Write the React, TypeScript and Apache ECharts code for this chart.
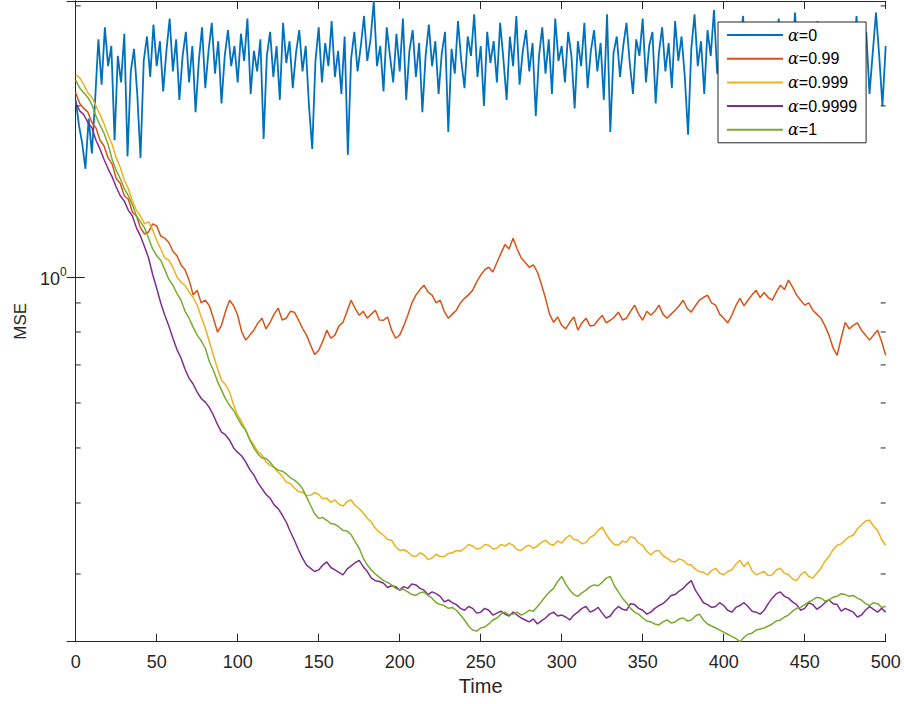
import React, { useEffect, useRef } from 'react';
import * as echarts from 'echarts';

const FONT = '"Liberation Sans", Arial, Helvetica, sans-serif';
const INK = '#262626';

// Legend names and MATLAB default line colours
const seriesNames = ['α=0', 'α=0.99', 'α=0.999', 'α=0.9999', 'α=1'];
const seriesColors = ['#0072BD', '#D95319', '#EDB120', '#7E2F8E', '#77AC30'];

// Axis limits (tight to the data)
const timeMin = 0;
const timeMax = 500;
const timeInterval = 50;
const mseMin = 0.228;
const mseMax = 3.06;
// Log-axis minor tick positions
const minorTickValues = [0.3, 0.4, 0.5, 0.6, 0.7, 0.8, 0.9, 2, 3];

// α=0 sampled every 2 time steps
const alpha0Step = 2;
const mseAlpha0 = [
  2.05, 1.85, 1.72, 1.55, 1.9, 1.65, 2.05, 2.62, 2.18, 2.75,
  2.35, 2.55, 1.74, 2.45, 2.2, 2.68, 1.63, 2.3, 2.52, 2.1,
  1.62, 2.4, 2.65, 2.25, 2.78, 2.35, 2.6, 2.12, 2.5, 2.85,
  2.3, 2.62, 2.05, 2.45, 2.7, 2.2, 2.55, 1.95, 2.4, 2.75,
  2.15, 2.5, 2.8, 2.28, 2.6, 2.02, 2.45, 2.72, 2.35, 2.55,
  2.2, 2.68, 2.4, 2.85, 2.1, 2.5, 2.3, 2.62, 1.75, 2.45,
  2.7, 2.25, 2.55, 2.05, 2.8, 2.38, 2.6, 2.15, 2.48, 2.72,
  2.3, 2.55, 2.0, 1.68, 2.4, 2.75, 2.2, 2.58, 2.35, 2.82,
  2.25, 2.5, 2.1, 2.65, 1.64, 2.42, 2.7, 2.3, 2.55, 2.88,
  2.4, 2.62, 3.06, 2.35, 2.55, 2.12, 2.75, 2.45, 2.2, 2.68,
  2.3, 2.85, 2.05, 2.5, 2.72, 2.25, 2.58, 1.95, 2.45, 2.78,
  2.35, 2.6, 2.1, 2.48, 2.7, 1.8, 2.52, 2.28, 2.82, 2.4,
  2.15, 2.65, 2.45, 2.9, 2.25, 2.55, 2.0, 2.7, 2.38, 2.6,
  2.2, 2.8, 2.42, 2.05, 2.65, 2.35, 2.88, 2.18, 2.5, 2.72,
  2.3, 2.58, 1.92, 2.45, 2.75, 2.28, 2.62, 2.1, 2.85, 2.4,
  2.55, 2.2, 2.7, 2.45, 1.98, 2.6, 2.35, 2.8, 2.15, 2.5,
  2.72, 2.3, 2.58, 2.05, 2.9, 1.8, 2.48, 2.65, 2.25, 2.55,
  2.8, 2.38, 2.1, 2.62, 2.45, 2.85, 2.2, 2.55, 2.7, 2.02,
  2.48, 2.75, 2.3, 2.58, 2.15, 2.82, 2.4, 2.65, 2.25, 1.78,
  2.52, 2.9, 2.35, 2.6, 2.1, 2.72, 2.45, 2.95, 2.28, 2.55,
  2.05, 2.68, 2.4, 2.8, 2.22, 2.58, 2.88, 2.15, 2.5, 2.7,
  2.32, 2.62, 1.95, 2.45, 2.78, 2.25, 2.55, 2.85, 2.12, 2.48,
  2.7, 2.3, 2.92, 2.4, 2.6, 2.05, 2.75, 2.35, 2.55, 2.82,
  2.2, 2.5, 2.68, 2.02, 2.45, 2.78, 2.3, 2.6, 2.15, 2.72,
  2.4, 2.88, 2.25, 2.55, 2.7, 2.1, 2.48, 2.92, 2.45, 2.0,
  2.55,
];

// The other curves are sampled every 2.5 time steps
const smoothStep = 2.5;

const mseAlpha099 = [
  2.11, 2.02, 1.98, 1.95, 1.87, 1.83, 1.74, 1.7, 1.62, 1.58,
  1.49, 1.46, 1.39, 1.37, 1.3, 1.28, 1.22, 1.19, 1.2, 1.24,
  1.23, 1.18, 1.17, 1.15, 1.11, 1.09, 1.05, 1.03, 0.987, 0.93,
  0.947, 0.9, 0.91, 0.89, 0.846, 0.8, 0.822, 0.87, 0.91, 0.89,
  0.856, 0.8, 0.774, 0.79, 0.806, 0.83, 0.846, 0.81, 0.832, 0.86,
  0.881, 0.84, 0.846, 0.87, 0.867, 0.84, 0.812, 0.79, 0.758, 0.73,
  0.743, 0.77, 0.806, 0.78, 0.79, 0.82, 0.832, 0.87, 0.91, 0.88,
  0.856, 0.87, 0.846, 0.86, 0.874, 0.84, 0.839, 0.85, 0.806, 0.78,
  0.79, 0.82, 0.856, 0.9, 0.929, 0.95, 0.967, 0.94, 0.929, 0.9,
  0.91, 0.87, 0.846, 0.86, 0.874, 0.9, 0.917, 0.93, 0.947, 0.98,
  1.007, 1.03, 1.04, 1.02, 1.06, 1.1, 1.14, 1.12, 1.17, 1.12,
  1.08, 1.06, 1.04, 1.05, 1.02, 0.97, 0.917, 0.86, 0.832, 0.85,
  0.822, 0.81, 0.832, 0.85, 0.806, 0.83, 0.846, 0.82, 0.822, 0.84,
  0.856, 0.83, 0.839, 0.85, 0.867, 0.84, 0.846, 0.87, 0.892, 0.86,
  0.839, 0.87, 0.856, 0.87, 0.892, 0.86, 0.846, 0.86, 0.874, 0.89,
  0.91, 0.88, 0.867, 0.89, 0.91, 0.92, 0.929, 0.9, 0.892, 0.86,
  0.846, 0.83, 0.856, 0.89, 0.917, 0.89, 0.91, 0.93, 0.947, 0.92,
  0.939, 0.92, 0.91, 0.94, 0.967, 0.95, 0.987, 0.96, 0.929, 0.91,
  0.892, 0.9, 0.874, 0.86, 0.846, 0.82, 0.79, 0.75, 0.728, 0.78,
  0.832, 0.81, 0.822, 0.83, 0.806, 0.79, 0.774, 0.79, 0.806, 0.77,
  0.728,
];

const mseAlpha0999 = [
  2.27, 2.24, 2.18, 2.11, 2.07, 2.0, 1.93, 1.86, 1.78, 1.71,
  1.62, 1.56, 1.48, 1.43, 1.36, 1.31, 1.28, 1.24, 1.25, 1.21,
  1.16, 1.12, 1.08, 1.07, 1.04, 1.0, 0.979, 0.966, 0.94, 0.92,
  0.892, 0.85, 0.812, 0.77, 0.728, 0.69, 0.658, 0.646, 0.627, 0.595,
  0.571, 0.556, 0.537, 0.518, 0.506, 0.492, 0.486, 0.472, 0.466, 0.462,
  0.453, 0.446, 0.435, 0.433, 0.425, 0.419, 0.418, 0.412, 0.413, 0.417,
  0.414, 0.407, 0.408, 0.401, 0.405, 0.398, 0.395, 0.402, 0.405, 0.396,
  0.391, 0.384, 0.376, 0.37, 0.361, 0.355, 0.351, 0.345, 0.344, 0.335,
  0.33, 0.331, 0.328, 0.323, 0.322, 0.327, 0.324, 0.318, 0.32, 0.325,
  0.322, 0.322, 0.326, 0.327, 0.33, 0.329, 0.333, 0.338, 0.336, 0.332,
  0.333, 0.338, 0.337, 0.332, 0.333, 0.338, 0.336, 0.34, 0.337, 0.331,
  0.33, 0.335, 0.337, 0.333, 0.336, 0.341, 0.344, 0.339, 0.337, 0.343,
  0.34, 0.347, 0.351, 0.345, 0.344, 0.339, 0.341, 0.348, 0.351, 0.358,
  0.363, 0.352, 0.344, 0.338, 0.337, 0.343, 0.341, 0.349, 0.347, 0.34,
  0.337, 0.329, 0.324, 0.329, 0.33, 0.323, 0.32, 0.316, 0.315, 0.319,
  0.317, 0.312, 0.311, 0.306, 0.303, 0.302, 0.299, 0.304, 0.307, 0.301,
  0.299, 0.303, 0.305, 0.312, 0.317, 0.309, 0.315, 0.304, 0.299, 0.301,
  0.303, 0.298, 0.299, 0.305, 0.307, 0.301, 0.299, 0.294, 0.292, 0.299,
  0.303, 0.297, 0.295, 0.301, 0.307, 0.316, 0.322, 0.331, 0.337, 0.339,
  0.344, 0.349, 0.351, 0.36, 0.366, 0.372, 0.373, 0.364, 0.358, 0.345,
  0.337,
];

const mseAlpha09999 = [
  2.02, 1.96, 1.93, 1.87, 1.83, 1.74, 1.68, 1.61, 1.55, 1.5,
  1.44, 1.39, 1.36, 1.31, 1.28, 1.22, 1.18, 1.13, 1.08, 1.01,
  0.955, 0.9, 0.856, 0.82, 0.78, 0.745, 0.72, 0.688, 0.663, 0.648,
  0.627, 0.611, 0.602, 0.589, 0.571, 0.55, 0.533, 0.527, 0.516, 0.5,
  0.491, 0.484, 0.472, 0.458, 0.448, 0.434, 0.424, 0.414, 0.408, 0.397,
  0.391, 0.381, 0.37, 0.356, 0.344, 0.331, 0.32, 0.311, 0.307, 0.303,
  0.305, 0.311, 0.315, 0.308, 0.305, 0.302, 0.299, 0.306, 0.31, 0.314,
  0.317, 0.309, 0.303, 0.295, 0.292, 0.291, 0.289, 0.284, 0.286, 0.285,
  0.281, 0.285, 0.283, 0.288, 0.287, 0.283, 0.281, 0.276, 0.279, 0.277,
  0.274, 0.268, 0.27, 0.267, 0.265, 0.261, 0.259, 0.263, 0.261, 0.256,
  0.257, 0.261, 0.259, 0.254, 0.256, 0.258, 0.255, 0.253, 0.257, 0.254,
  0.251, 0.249, 0.247, 0.25, 0.245, 0.248, 0.251, 0.255, 0.257, 0.253,
  0.254, 0.252, 0.249, 0.254, 0.257, 0.261, 0.263, 0.257, 0.259, 0.262,
  0.256, 0.251, 0.253, 0.259, 0.263, 0.26, 0.259, 0.266, 0.265, 0.261,
  0.259, 0.255, 0.257, 0.261, 0.264, 0.266, 0.27, 0.275, 0.276, 0.28,
  0.283, 0.288, 0.292, 0.281, 0.274, 0.267, 0.265, 0.262, 0.263, 0.267,
  0.264, 0.259, 0.257, 0.262, 0.264, 0.267, 0.263, 0.258, 0.257, 0.255,
  0.259, 0.266, 0.272, 0.277, 0.279, 0.274, 0.272, 0.268, 0.265, 0.259,
  0.261, 0.267, 0.265, 0.26, 0.263, 0.267, 0.27, 0.266, 0.265, 0.258,
  0.261, 0.259, 0.257, 0.252, 0.254, 0.259, 0.263, 0.26, 0.257, 0.261,
  0.257,
];

const mseAlpha1 = [
  2.22, 2.15, 2.11, 2.07, 2.01, 1.92, 1.85, 1.79, 1.71, 1.61,
  1.54, 1.49, 1.43, 1.39, 1.34, 1.28, 1.25, 1.22, 1.17, 1.12,
  1.09, 1.07, 1.03, 0.99, 0.967, 0.935, 0.91, 0.87, 0.846, 0.815,
  0.79, 0.772, 0.749, 0.71, 0.685, 0.655, 0.632, 0.61, 0.594, 0.582,
  0.564, 0.548, 0.537, 0.516, 0.5, 0.488, 0.48, 0.479, 0.472, 0.462,
  0.457, 0.455, 0.45, 0.443, 0.439, 0.433, 0.424, 0.41, 0.396, 0.383,
  0.376, 0.377, 0.373, 0.368, 0.367, 0.363, 0.358, 0.357, 0.352, 0.342,
  0.333, 0.32, 0.311, 0.305, 0.3, 0.296, 0.292, 0.29, 0.287, 0.283,
  0.281, 0.282, 0.279, 0.276, 0.275, 0.278, 0.279, 0.275, 0.272, 0.267,
  0.265, 0.264, 0.261, 0.262, 0.259, 0.254, 0.249, 0.243, 0.239, 0.238,
  0.241, 0.242, 0.245, 0.249, 0.251, 0.255, 0.257, 0.254, 0.255, 0.257,
  0.254, 0.256, 0.259, 0.258, 0.263, 0.268, 0.274, 0.279, 0.283, 0.291,
  0.297, 0.288, 0.281, 0.276, 0.274, 0.278, 0.281, 0.285, 0.287, 0.286,
  0.29, 0.295, 0.297, 0.286, 0.279, 0.272, 0.267, 0.261, 0.257, 0.255,
  0.251, 0.248, 0.247, 0.245, 0.244, 0.247, 0.249, 0.246, 0.247, 0.25,
  0.251, 0.248, 0.249, 0.253, 0.255, 0.249, 0.245, 0.243, 0.241, 0.239,
  0.237, 0.235, 0.233, 0.231, 0.228, 0.232, 0.235, 0.236, 0.239, 0.24,
  0.241, 0.243, 0.245, 0.248, 0.249, 0.252, 0.254, 0.258, 0.261, 0.262,
  0.265, 0.268, 0.27, 0.273, 0.272, 0.269, 0.27, 0.273, 0.274, 0.277,
  0.276, 0.274, 0.275, 0.272, 0.27, 0.266, 0.264, 0.267, 0.266, 0.262,
  0.263,
];

const seriesValues = [mseAlpha0, mseAlpha099, mseAlpha0999, mseAlpha09999, mseAlpha1];
const seriesSteps = [alpha0Step, smoothStep, smoothStep, smoothStep, smoothStep];
const seriesWidths = [1.8, 1.5, 1.5, 1.5, 1.5];

export default function App() {
  const ref = useRef<HTMLDivElement>(null);

  useEffect(() => {
    document.body.style.margin = '0';
    if (!ref.current) return;
    const chart = echarts.init(ref.current, undefined, { renderer: 'svg' });

    const tickLabelStyle = { fontFamily: FONT, fontSize: 18, color: INK };

    const option: any = {
      animation: false,
      backgroundColor: '#ffffff',
      grid: { left: 75.7, right: 18.3, top: 1, bottom: 62.3, containLabel: false },
      legend: {
        orient: 'vertical',
        left: 718,
        top: 22,
        itemWidth: 56,
        itemHeight: 14,
        itemGap: 7.7,
        padding: [5, 9, 5, 8],
        borderColor: INK,
        borderWidth: 1,
        borderRadius: 0,
        backgroundColor: '#ffffff',
        data: seriesNames,
        itemStyle: { opacity: 0 },
        formatter: (name: string) => `{g|α}{t|${name.slice(1)}}`,
        textStyle: {
          fontFamily: FONT,
          fontSize: 16,
          color: '#000000',
          rich: {
            g: { fontFamily: '"DejaVu Serif", serif', fontStyle: 'italic', fontSize: 16, color: '#000000' },
            t: { fontFamily: FONT, fontSize: 16, color: '#000000' },
          },
        },
      },
      xAxis: [
        {
          type: 'value',
          position: 'bottom',
          min: timeMin,
          max: timeMax,
          interval: timeInterval,
          name: 'Time',
          nameLocation: 'middle',
          nameGap: 34,
          nameTextStyle: { fontFamily: FONT, fontSize: 20, color: INK },
          axisLine: { show: true, lineStyle: { color: INK, width: 1 } },
          axisTick: { show: true, inside: true, length: 8, lineStyle: { color: INK } },
          axisLabel: { ...tickLabelStyle, margin: 11 },
          splitLine: { show: false },
        },
        {
          type: 'value',
          position: 'top',
          min: timeMin,
          max: timeMax,
          interval: timeInterval,
          axisLine: { show: true, lineStyle: { color: INK, width: 1 } },
          axisTick: { show: true, inside: true, length: 8, lineStyle: { color: INK } },
          axisLabel: { show: false },
          splitLine: { show: false },
        },
      ],
      yAxis: [
        {
          type: 'log',
          logBase: 10,
          position: 'left',
          min: mseMin,
          max: mseMax,
          name: 'MSE',
          nameLocation: 'middle',
          nameGap: 47,
          nameTextStyle: { fontFamily: FONT, fontSize: 17, color: INK },
          axisLine: { show: true, lineStyle: { color: INK, width: 1 } },
          axisTick: { show: true, inside: true, length: 9, lineStyle: { color: INK } },
          axisLabel: {
            margin: 9,
            showMinLabel: false,
            showMaxLabel: false,
            formatter: (v: number) => (Math.abs(v - 1) < 1e-6 ? '{b|10}{s|0}' : ''),
            rich: {
              b: { fontFamily: FONT, fontSize: 18, color: INK, lineHeight: 22, verticalAlign: 'bottom' },
              s: { fontFamily: FONT, fontSize: 12, color: INK, lineHeight: 12, verticalAlign: 'top' },
            },
          },
          splitLine: { show: false },
        },
        {
          type: 'log',
          logBase: 10,
          position: 'right',
          min: mseMin,
          max: mseMax,
          axisLine: { show: true, lineStyle: { color: INK, width: 1 } },
          axisTick: { show: true, inside: true, length: 9, lineStyle: { color: INK } },
          axisLabel: { show: false },
          splitLine: { show: false },
        },
      ],
      series: seriesNames.map((name, i) => ({
        name,
        type: 'line',
        xAxisIndex: 0,
        yAxisIndex: 0,
        symbol: 'none',
        showSymbol: false,
        clip: true,
        color: seriesColors[i],
        lineStyle: { color: seriesColors[i], width: seriesWidths[i] },
        data: seriesValues[i].map((v, k) => [k * seriesSteps[i], v]),
      })),
    };

    chart.setOption(option);

    // Minor ticks of the log axis, on both vertical edges of the box
    const xLeft = chart.convertToPixel({ xAxisIndex: 0 }, timeMin) as number;
    const xRight = chart.convertToPixel({ xAxisIndex: 0 }, timeMax) as number;
    const minorLen = 5;
    const marks: any[] = [];
    minorTickValues.forEach((v) => {
      const y = chart.convertToPixel({ yAxisIndex: 0 }, v) as number;
      marks.push({
        type: 'line',
        shape: { x1: xLeft, y1: y, x2: xLeft + minorLen, y2: y },
        style: { stroke: INK, lineWidth: 1 },
        silent: true,
        z: 10,
      });
      marks.push({
        type: 'line',
        shape: { x1: xRight - minorLen, y1: y, x2: xRight, y2: y },
        style: { stroke: INK, lineWidth: 1 },
        silent: true,
        z: 10,
      });
    });
    chart.setOption({ graphic: marks });

    return () => chart.dispose();
  }, []);

  return <div ref={ref} style={{ width: 904, height: 704 }} />;
}
